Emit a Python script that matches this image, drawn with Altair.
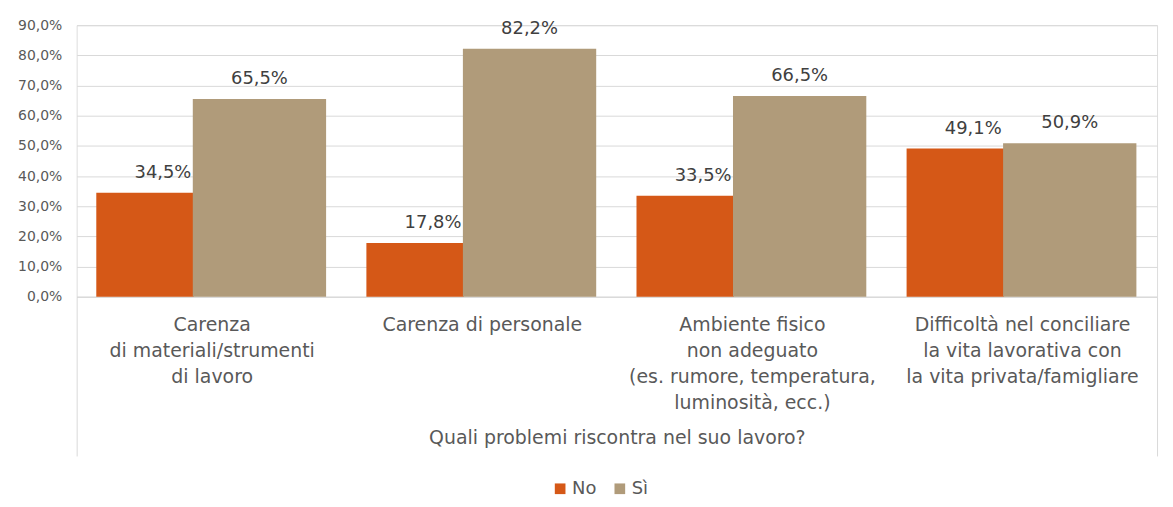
import altair as alt
import pandas as pd

categories = [
    "Carenza|di materiali/strumenti|di lavoro",
    "Carenza di personale",
    "Ambiente fisico|non adeguato|(es. rumore, temperatura,|luminosità, ecc.)",
    "Difficoltà nel conciliare|la vita lavorativa con|la vita privata/famigliare",
]
series = ["No", "Sì"]
no_values = [0.345, 0.178, 0.335, 0.491]
si_values = [0.655, 0.822, 0.665, 0.509]
y_ticks = [0.0, 0.1, 0.2, 0.3, 0.4, 0.5, 0.6, 0.7, 0.8, 0.9]
colors = ["#D55817", "#B09B7A"]

rows = []
for c, n, s in zip(categories, no_values, si_values):
    rows.append({"cat": c, "serie": "No", "val": n})
    rows.append({"cat": c, "serie": "Sì", "val": s})
df = pd.DataFrame(rows)

FONT = "DejaVu Sans"
GREY = "#595959"

x_enc = alt.X(
    "cat:N",
    sort=categories,
    scale=alt.Scale(paddingInner=0, paddingOuter=0),
    axis=alt.Axis(
        title="Quali problemi riscontra nel suo lavoro?",
        labelAngle=0,
        labelExpr="split(datum.label, '|')",
        labelFontSize=19,
        labelLineHeight=26,
        labelColor=GREY,
        labelFont=FONT,
        labelBaseline="top",
        labelLimit=400,
        tickBand="extent",
        tickSize=160,
        tickColor={
            "condition": {"test": "datum.index >= 1 || datum.index < 0", "value": "#d9d9d9"},
            "value": "transparent",
        },
        domainColor="#d9d9d9",
        labelPadding=-141,
        titlePadding=-28,
        titleFontSize=19,
        titleFontWeight="normal",
        titleColor=GREY,
        titleFont=FONT,
        grid=False,
    ),
)
y_enc = alt.Y(
    "val:Q",
    scale=alt.Scale(domain=[0, 0.9], nice=False),
    axis=alt.Axis(
        title=None,
        values=y_ticks,
        labelExpr="replace(format(datum.value, '.1%'), '.', ',')",
        labelFontSize=14,
        labelColor=GREY,
        labelFont=FONT,
        labelPadding=15,
        ticks=False,
        domain=False,
        gridColor="#d9d9d9",
    ),
)
color_enc = alt.Color(
    "serie:N",
    scale=alt.Scale(domain=series, range=colors),
    legend=alt.Legend(
        title=None,
        orient="none",
        legendX=477,
        legendY=457,
        direction="horizontal",
        symbolType="square",
        symbolSize=115,
        symbolStrokeWidth=0,
        labelFontSize=18,
        labelColor=GREY,
        labelFont=FONT,
        columnPadding=14,
        labelOffset=3,
    ),
)

base = alt.Chart(df).encode(x=x_enc, y=y_enc)

no_bar = base.transform_filter("datum.serie == 'No'").mark_bar(width=98, xOffset=-67).encode(color=color_enc)
si_bar = base.transform_filter("datum.serie == 'Sì'").mark_bar(width=134, xOffset=48).encode(color=color_enc)

lab = "replace(format(datum.val * 100, '.1f'), '.', ',') + '%'"
no_txt = base.transform_filter("datum.serie == 'No'").transform_calculate(lbl=lab).mark_text(
    dx=-49, dy=-15, baseline="alphabetic", fontSize=18, font=FONT, color="#404040"
).encode(text="lbl:N")
si_txt = base.transform_filter("datum.serie == 'Sì'").transform_calculate(lbl=lab).mark_text(
    dx=48, dy=-15, baseline="alphabetic", fontSize=18, font=FONT, color="#404040"
).encode(text="lbl:N")

chart = alt.layer(no_bar, si_bar, no_txt, si_txt).properties(
    width=1086,
    height=273,
    padding={"left": 69, "top": 16, "right": 8, "bottom": 200},
    autosize=alt.AutoSizeParams(type="none"),
).configure_view(stroke=None).configure(background="white")

chart.save("out.html", embed_options={"renderer": "svg", "actions": False})
